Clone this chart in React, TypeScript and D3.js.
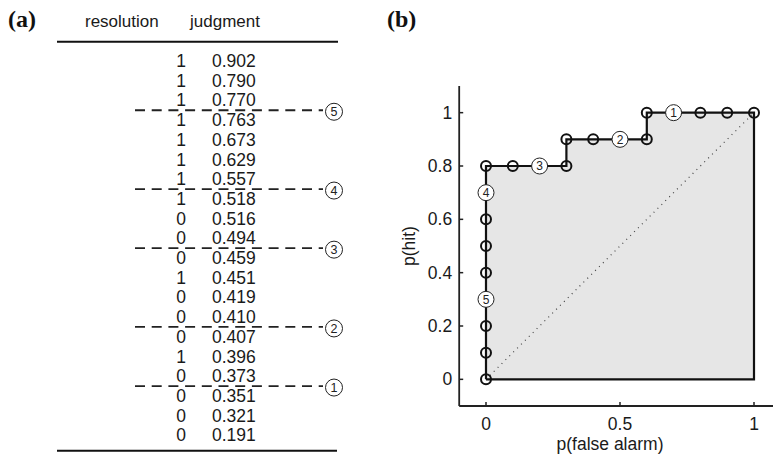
import React from "react";
import * as d3 from "d3";

// table (a): sorted judgments with their resolution (1 = event, 0 = non-event)
const judgment = [0.902, 0.79, 0.77, 0.763, 0.673, 0.629, 0.557, 0.518, 0.516, 0.494, 0.459, 0.451, 0.419, 0.41, 0.407, 0.396, 0.373, 0.351, 0.321, 0.191];
const resolution = [1, 1, 1, 1, 1, 1, 1, 1, 0, 0, 0, 1, 0, 0, 0, 1, 0, 0, 0, 0];
// thresholds drawn as dashed lines below these rows
const thresholdRows = [2, 6, 9, 13, 16];
const thresholdLabels = ["5", "4", "3", "2", "1"];

// ROC curve (b)
const pFalseAlarm = [0, 0, 0, 0, 0, 0, 0, 0, 0, 0.1, 0.2, 0.3, 0.3, 0.4, 0.5, 0.6, 0.6, 0.7, 0.8, 0.9, 1];
const pHit = [0, 0.1, 0.2, 0.3, 0.4, 0.5, 0.6, 0.7, 0.8, 0.8, 0.8, 0.8, 0.9, 0.9, 0.9, 0.9, 1, 1, 1, 1, 1];
const labelledPoints = [3, 7, 10, 14, 17];
const xTicks = [0, 0.5, 1];
const yTicks = [0, 0.2, 0.4, 0.6, 0.8, 1];

const W = 773;
const H = 459;
const sans = "'Liberation Sans', Arial, Helvetica, sans-serif";
const serif = "'Liberation Serif', 'Times New Roman', serif";

export default function App() {
  // table layout
  const rowY = d3.scaleLinear().domain([0, 19]).range([61, 435.3]);
  const fmt = d3.format(".3f");

  // plot scales
  const x = d3.scaleLinear().domain([-0.1, 1.1]).range([459.2, 780.8]);
  const y = d3.scaleLinear().domain([-0.1, 1.1]).range([406, 86]);

  const pts: [number, number][] = pFalseAlarm.map((fa, i) => [fa, pHit[i]]);
  const outline: [number, number][] = [...pts, [1, 0], [0, 0]];
  const line = d3
    .line<[number, number]>()
    .x((d) => x(d[0]))
    .y((d) => y(d[1]));

  return (
    <svg
      width={W}
      height={H}
      style={{ position: "absolute", left: 0, top: 0, background: "#fff" }}
    >
      {/* panel (a) */}
      <text x={8} y={27} fontFamily={serif} fontWeight="bold" fontSize={24} fill="#111">
        (a)
      </text>
      <text x={85} y={27} fontFamily={sans} fontSize={17} fill="#1a1a1a">
        resolution
      </text>
      <text x={190} y={27} fontFamily={sans} fontSize={17} fill="#1a1a1a">
        judgment
      </text>
      <line x1={57} x2={338} y1={41.7} y2={41.7} stroke="#111" strokeWidth={2} />
      <line x1={57} x2={337} y1={450.8} y2={450.8} stroke="#111" strokeWidth={2} />

      {thresholdRows.map((r, k) => {
        const ly = (rowY(r) + rowY(r + 1)) / 2;
        return (
          <g key={"th" + k}>
            <line
              x1={135}
              x2={323}
              y1={ly}
              y2={ly}
              stroke="#222"
              strokeWidth={1.8}
              strokeDasharray="10,6.7"
            />
            <circle cx={334} cy={ly + 1.5} r={8.5} fill="#fff" stroke="#222" strokeWidth={1} />
            <text
              x={334}
              y={ly + 5.8}
              textAnchor="middle"
              fontFamily={sans}
              fontSize={12.5}
              fill="#222"
            >
              {thresholdLabels[k]}
            </text>
          </g>
        );
      })}

      {judgment.map((j, i) => (
        <g key={"row" + i}>
          <text
            x={181}
            y={rowY(i) + 6}
            textAnchor="middle"
            fontFamily={sans}
            fontSize={17.5}
            fill="#1a1a1a"
          >
            {resolution[i]}
          </text>
          <text x={212} y={rowY(i) + 6} fontFamily={sans} fontSize={17.5} fill="#1a1a1a">
            {fmt(j)}
          </text>
        </g>
      ))}

      {/* panel (b) */}
      <text x={387} y={27} fontFamily={serif} fontWeight="bold" fontSize={24} fill="#111">
        (b)
      </text>

      <path d={line(outline) + "Z"} fill="#e6e6e6" stroke="none" />
      <line
        x1={x(0)}
        y1={y(0)}
        x2={x(1)}
        y2={y(1)}
        stroke="#444"
        strokeWidth={1.2}
        strokeDasharray="1,4.5"
      />
      <path d={line(outline) ?? ""} fill="none" stroke="#111" strokeWidth={2.2} />

      {pts.map((p, i) =>
        labelledPoints.includes(i) ? null : (
          <circle
            key={"m" + i}
            cx={x(p[0])}
            cy={y(p[1])}
            r={5}
            fill="none"
            stroke="#111"
            strokeWidth={2}
          />
        )
      )}
      {labelledPoints.map((pi, k) => (
        <g key={"lp" + k}>
          <circle
            cx={x(pFalseAlarm[pi])}
            cy={y(pHit[pi])}
            r={8}
            fill="#fff"
            stroke="#222"
            strokeWidth={1}
          />
          <text
            x={x(pFalseAlarm[pi])}
            y={y(pHit[pi]) + 4.3}
            textAnchor="middle"
            fontFamily={sans}
            fontSize={12}
            fill="#222"
          >
            {thresholdLabels[k]}
          </text>
        </g>
      ))}

      {/* axes */}
      <line x1={x(-0.1)} x2={x(-0.1)} y1={y(-0.1)} y2={y(1.1)} stroke="#222" strokeWidth={1.8} />
      <line x1={x(-0.1)} x2={W} y1={y(-0.1)} y2={y(-0.1)} stroke="#222" strokeWidth={1.8} />
      {yTicks.map((t) => (
        <g key={"yt" + t}>
          <line x1={x(-0.1)} x2={x(-0.1) + 4} y1={y(t)} y2={y(t)} stroke="#222" strokeWidth={1.5} />
          <text
            x={x(-0.1) - 7}
            y={y(t) + 6}
            textAnchor="end"
            fontFamily={sans}
            fontSize={17.5}
            fill="#1a1a1a"
          >
            {d3.format("")(t)}
          </text>
        </g>
      ))}
      {xTicks.map((t) => (
        <g key={"xt" + t}>
          <line x1={x(t)} x2={x(t)} y1={y(-0.1)} y2={y(-0.1) - 4} stroke="#222" strokeWidth={1.5} />
          <text
            x={x(t)}
            y={430}
            textAnchor="middle"
            fontFamily={sans}
            fontSize={17.5}
            fill="#1a1a1a"
          >
            {d3.format("")(t)}
          </text>
        </g>
      ))}
      <text x={610} y={450} textAnchor="middle" fontFamily={sans} fontSize={17.5} fill="#1a1a1a">
        p(false alarm)
      </text>
      <text
        transform={`translate(415, ${(y(-0.1) + y(1.1)) / 2}) rotate(-90)`}
        textAnchor="middle"
        fontFamily={sans}
        fontSize={17.5}
        fill="#1a1a1a"
      >
        p(hit)
      </text>
    </svg>
  );
}
